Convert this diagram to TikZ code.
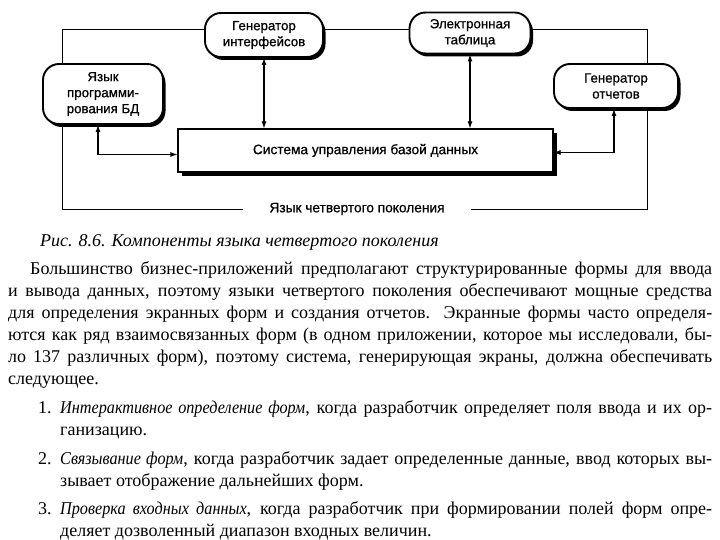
\documentclass[tikz,border=0pt]{standalone}
\usepackage{fontspec}
\setmainfont{Liberation Serif}
\newfontfamily\diagfont{Liberation Sans}[FakeBold=0.7]
\newfontfamily\narrowserif{Liberation Serif}[ItalicFeatures={FakeStretch=0.9}]
\usetikzlibrary{arrows.meta,shadows}
\newcommand{\spreadline}[2]{\makebox[#1][s]{#2}}
\newcommand{\itemhead}[1]{{\narrowserif\itshape #1}}

\begin{document}
\begin{tikzpicture}[x=1pt, y=-1pt,
  pill/.style={draw, line width=1.9pt, fill=white, rounded corners=16pt, align=center,
               font=\diagfont\fontsize{13.3}{16}\selectfont, inner sep=1pt,
               drop shadow={shadow xshift=2.5pt, shadow yshift=-3pt, fill=black, opacity=1}},
  dbbox/.style={draw, line width=1.1pt, fill=white, minimum width=375pt, minimum height=43pt,
                font=\diagfont\fontsize{13.7}{16}\selectfont,
                drop shadow={shadow xshift=3.5pt, shadow yshift=-4pt, fill=black, opacity=1}},
  frame/.style={draw, line width=1pt, minimum width=585pt, minimum height=180pt, inner sep=0pt},
  link/.style={line width=1.1pt, {Latex[length=7pt,width=5pt]}-{Latex[length=7pt,width=5pt]}},
  body/.style={font=\fontsize{18}{22}\selectfont, align=left, inner sep=0pt, anchor=base west},
]
\useasboundingbox (0,0) rectangle (720,540);
% diagram
\node[frame] (lang4) at (354.5,120) {};
\node[fill=white, inner xsep=26pt, inner ysep=2pt, font=\diagfont\fontsize{13.7}{16}\selectfont]
  (lang4name) at (357,209) {Язык четвертого поколения};
\node[pill, minimum width=118pt, minimum height=44pt] (gi) at (264,35) {Генератор\\интерфейсов};
\node[pill, minimum width=121pt, minimum height=41pt] (et) at (470,33) {Электронная\\таблица};
\node[pill, minimum width=120pt, minimum height=60pt] (yp) at (103,94) {Язык\\программи-\\рования БД};
\node[pill, minimum width=124pt, minimum height=44pt] (go) at (616,86) {Генератор\\отчетов};
\node[dbbox] (dbms) at (365.5,150.5) {Система управления базой данных};
\draw[link] (gi.south) -- (gi.south |- dbms.north);
\draw[link] (et.south) -- (et.south |- dbms.north);
\draw[link] ([xshift=-5pt]yp.south) |- ([yshift=-4pt]dbms.west);
\draw[link] ([xshift=-2pt]go.south) |- ([yshift=-2pt]dbms.east);
% caption and text (multi-line nodes sit on their last baseline)
\node[body, font=\itshape\fontsize{18}{22}\selectfont] (caption) at (40,247)
  {Рис. 8.6. Компоненты языка четвертого поколения};
\node[body] (para) at (8,384)
  {\hspace*{22pt}\spreadline{682pt}{Большинство бизнес-приложений предполагают структурированные формы для ввода}\\
   \spreadline{704pt}{и вывода данных, поэтому языки четвертого поколения обеспечивают мощные средства}\\
   \spreadline{704pt}{для определения экранных форм и создания отчетов. Экранные формы часто определя-}\\
   \spreadline{704pt}{ются как ряд взаимосвязанных форм (в одном приложении, которое мы исследовали, бы-}\\
   \spreadline{704pt}{ло 137 различных форм), поэтому система, генерирующая экраны, должна обеспечивать}\\
   следующее.};
\node[body] (n1) at (38,413) {1.};
\node[body] (item1) at (60,435)
  {\spreadline{652pt}{\itemhead{Интерактивное определение форм}, когда разработчик определяет поля ввода и их ор-}\\
   ганизацию.};
\node[body] (n2) at (38,464) {2.};
\node[body] (item2) at (60,486)
  {\spreadline{652pt}{\itemhead{Связывание форм}, когда разработчик задает определенные данные, ввод которых вы-}\\
   зывает отображение дальнейших форм.};
\node[body] (n3) at (38,514) {3.};
\node[body] (item3) at (60,536)
  {\spreadline{652pt}{\itemhead{Проверка входных данных}, когда разработчик при формировании полей форм опре-}\\
   деляет дозволенный диапазон входных величин.};
\end{tikzpicture}
\end{document}
